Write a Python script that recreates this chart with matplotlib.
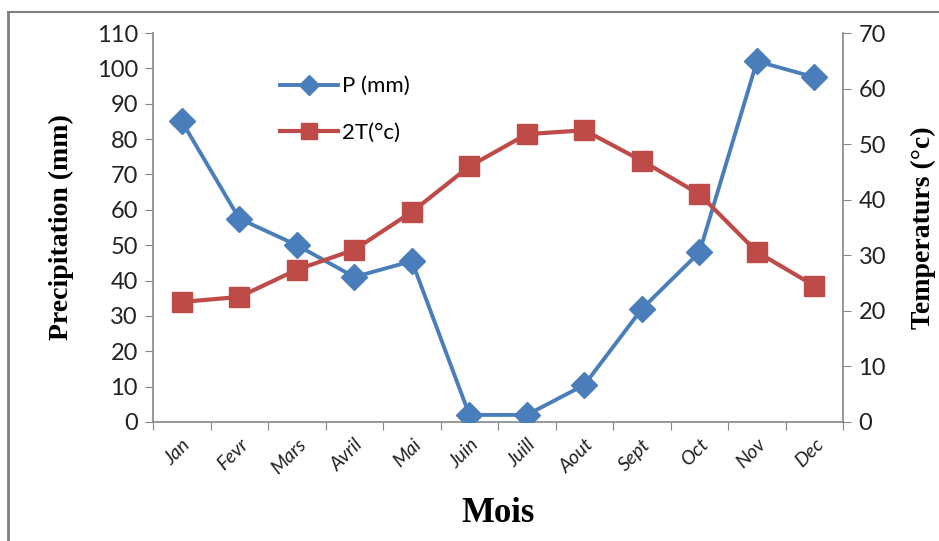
import matplotlib.pyplot as plt
from matplotlib.lines import Line2D

# données mensuelles
mois = ["Jan", "Fevr", "Mars", "Avril", "Mai", "Juin", "Juill", "Aout", "Sept", "Oct", "Nov", "Dec"]
precip = [85, 57.5, 50, 41, 45.5, 2, 2, 10.5, 32, 48, 102, 97.5]
temp2 = [21.6, 22.5, 27.4, 31, 37.8, 46, 51.8, 52.5, 47, 41, 30.6, 24.5]

bleu = "#4A7EBB"
rouge = "#BE4B48"
gris = "#868686"

fig = plt.figure(figsize=(9.39, 5.41), dpi=100)
ax = fig.add_axes([0.163, 0.22, 0.735, 0.719])
ax2 = ax.twinx()

x = list(range(len(mois)))
l1, = ax.plot(x, precip, color=bleu, lw=2.8, marker="D", ms=13, label="P (mm)", zorder=3)
l2, = ax2.plot(x, temp2, color=rouge, lw=3, marker="s", ms=15, label="2T(°c)", zorder=3)

ax.set_xlim(-0.5, 11.5)
ax.set_ylim(0, 110)
ax2.set_ylim(0, 70)
ax.set_yticks(range(0, 111, 10))
ax2.set_yticks(range(0, 71, 10))

# ticks de l'axe x entre les catégories
ax.set_xticks([i - 0.5 for i in range(13)])
ax.set_xticklabels([])
ax.set_xticks(x, minor=True)
ax.set_xticklabels(mois, minor=True, rotation=45, ha="right", rotation_mode="anchor",
                   fontstyle="italic", fontsize=14, family="Lato", color="#222222")
ax.tick_params(axis="x", which="minor", length=0, pad=10)
ax.tick_params(axis="x", which="major", length=6, color=gris, direction="out")

for a in (ax, ax2):
    for s in a.spines.values():
        s.set_visible(False)
ax.spines["left"].set_visible(True)
ax.spines["bottom"].set_visible(True)
ax2.spines["right"].set_visible(True)
for s in (ax.spines["left"], ax.spines["bottom"], ax2.spines["right"]):
    s.set_color(gris)
    s.set_linewidth(1.2)

ax.tick_params(axis="y", length=6, color=gris, labelsize=17, pad=5, labelcolor="#222222")
ax2.tick_params(axis="y", length=6, color=gris, labelsize=17, pad=5, labelcolor="#222222")
for lab in ax.get_yticklabels() + ax2.get_yticklabels():
    lab.set_family("Lato")

ax.set_ylabel("Precipitation (mm)", family="Liberation Serif", fontweight="bold", fontsize=20, labelpad=16)
ax2.set_ylabel("Temperaturs (°c)", family="Liberation Serif", fontweight="bold", fontsize=20, labelpad=18)
ax.set_xlabel("Mois", family="Liberation Serif", fontweight="bold", fontsize=25, labelpad=14)

leg = ax.legend(handles=[l1, l2], loc="upper left", bbox_to_anchor=(0.155, 0.94),
                frameon=False, handlelength=2.6, labelspacing=1.2, markerscale=0.8,
                handletextpad=0.2, prop={"family": "Lato", "size": 16})

# cadre extérieur
fig.add_artist(Line2D([0.009, 0.009], [0.0, 0.978], color="#7f7f7f", lw=2, transform=fig.transFigure))
fig.add_artist(Line2D([0.009, 1.0], [0.978, 0.978], color="#7f7f7f", lw=1.5, transform=fig.transFigure))

fig.savefig("out.png", dpi=100)
